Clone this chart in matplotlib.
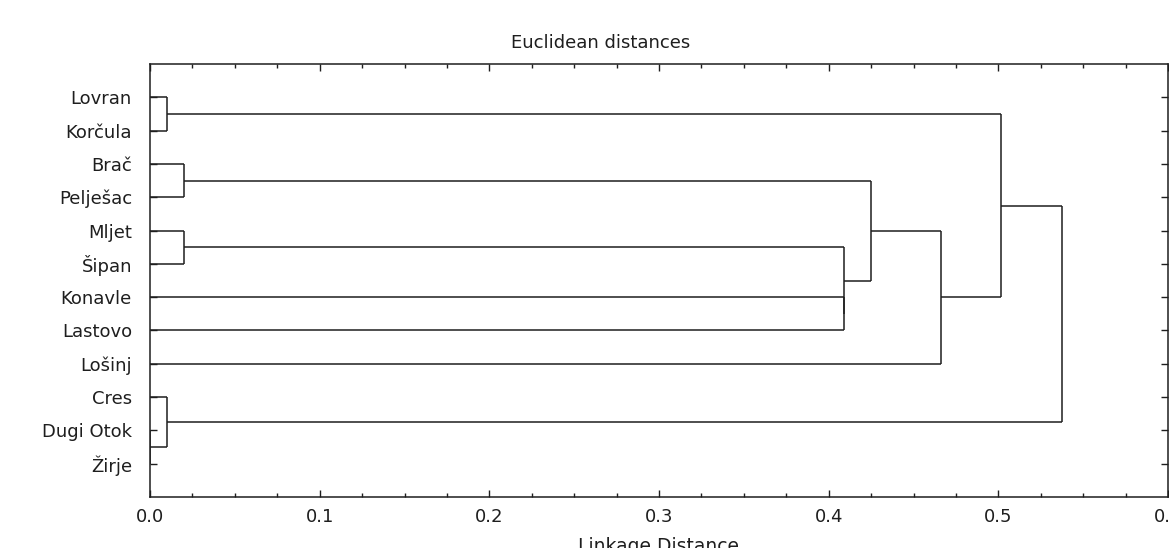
import matplotlib.pyplot as plt
from matplotlib.ticker import MultipleLocator

# Listovi u redoslijedu crtanja (odozgo prema dolje)
otoci = ['Lovran', 'Korčula', 'Brač', 'Pelješac', 'Mljet', 'Šipan',
         'Konavle', 'Lastovo', 'Lošinj', 'Cres', 'Dugi Otok', 'Žirje']

# Spajanja: (cvor_a, cvor_b) i visina spajanja (euklidska udaljenost)
spoj_a = [0, 2, 4, 10, 9, 6, 14, 13, 19, 12, 21]
spoj_b = [1, 3, 5, 11, 15, 7, 17, 18, 8, 20, 16]
visine = [0.01, 0.02, 0.02, 0.0, 0.01, 0.409, 0.409, 0.425, 0.4665, 0.5016, 0.5376]

x_ticks = [0.0, 0.1, 0.2, 0.3, 0.4, 0.5, 0.6]

boja = '#1e1e1e'
plt.rcParams['font.family'] = ['DejaVu Sans']

W, H = 1169, 548
fig = plt.figure(figsize=(W / 100, H / 100), dpi=100)
ax = fig.add_axes([150 / W, 51 / H, (1168 - 150) / W, (497 - 64) / H])

# pozicije i visine cvorova
n = len(otoci)
poz = {i: i + 1 for i in range(n)}
vis = {i: 0.0 for i in range(n)}
for k, (a, b, h) in enumerate(zip(spoj_a, spoj_b, visine)):
    novi = n + k
    for c in (a, b):
        ax.plot([vis[c], h], [poz[c], poz[c]], color=boja, lw=1.1,
                solid_capstyle='butt')
    ax.plot([h, h], [poz[a], poz[b]], color=boja, lw=1.1,
            solid_capstyle='butt')
    poz[novi] = (poz[a] + poz[b]) / 2
    vis[novi] = h

ax.set_xlim(0, 0.6)
ax.set_ylim(n + 1, 0)

ax.set_xticks(x_ticks)
ax.set_xticklabels([f'{t:.1f}' for t in x_ticks], fontsize=13, color=boja)
ax.xaxis.set_minor_locator(MultipleLocator(0.025))
ax.set_yticks(range(1, n + 1))
ax.set_yticklabels(otoci, fontsize=13, color=boja)

ax.tick_params(axis='x', which='major', direction='in', length=5, width=1,
               top=True, bottom=True, pad=8, colors=boja)
ax.tick_params(axis='x', which='minor', direction='in', length=3, width=1,
               top=True, bottom=True, colors=boja)
ax.tick_params(axis='y', direction='in', length=5, width=1,
               left=True, right=True, pad=13, colors=boja)
for s in ax.spines.values():
    s.set_color(boja)
    s.set_linewidth(1.1)

fig.text(601 / W, 1 - 43 / H, 'Euclidean distances', fontsize=13,
         ha='center', va='center', color=boja)
fig.text(658 / W, 1 - 546 / H, 'Linkage Distance', fontsize=13.5,
         ha='center', va='center', color=boja)

fig.savefig('out.png', dpi=100)
